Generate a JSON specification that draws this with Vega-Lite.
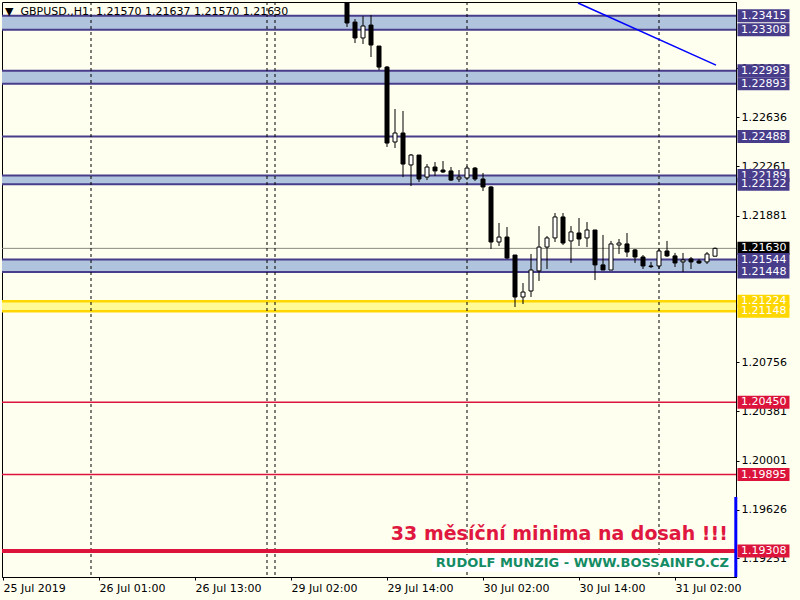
{
  "$schema": "https://vega.github.io/schema/vega-lite/v6.json",
  "width": 734,
  "height": 575,
  "autosize": {"type": "none"},
  "padding": {"left": 2, "top": 2, "right": 64, "bottom": 23},
  "background": "#fffff0",
  "config": {
    "view": {"stroke": "#000000", "strokeWidth": 1},
    "font": "DejaVu Sans",
    "axis": {"labelFont": "DejaVu Sans", "labelFontSize": 11, "labelColor": "#000000", "domainColor": "#000000", "tickColor": "#000000", "grid": false, "titleFontSize": 0}
  },
  "datasets": {
    "candles": [
      {"t": 43, "open": 1.2366, "high": 1.2370, "low": 1.23328, "close": 1.23359},
      {"t": 44, "open": 1.23366, "high": 1.23389, "low": 1.23205, "close": 1.23244},
      {"t": 45, "open": 1.23244, "high": 1.23412, "low": 1.23198, "close": 1.23336},
      {"t": 46, "open": 1.23343, "high": 1.23420, "low": 1.23098, "close": 1.23190},
      {"t": 47, "open": 1.23182, "high": 1.23182, "low": 1.22998, "close": 1.23021},
      {"t": 48, "open": 1.23021, "high": 1.23029, "low": 1.22408, "close": 1.22438},
      {"t": 49, "open": 1.22446, "high": 1.22699, "low": 1.22400, "close": 1.22515},
      {"t": 50, "open": 1.22515, "high": 1.22684, "low": 1.22177, "close": 1.22277},
      {"t": 51, "open": 1.22270, "high": 1.22354, "low": 1.22108, "close": 1.22346},
      {"t": 52, "open": 1.22346, "high": 1.22346, "low": 1.22139, "close": 1.22162},
      {"t": 53, "open": 1.22177, "high": 1.22277, "low": 1.22154, "close": 1.22254},
      {"t": 54, "open": 1.22254, "high": 1.22292, "low": 1.22185, "close": 1.22224},
      {"t": 55, "open": 1.22231, "high": 1.22300, "low": 1.22208, "close": 1.22216},
      {"t": 56, "open": 1.22224, "high": 1.22254, "low": 1.22147, "close": 1.22154},
      {"t": 57, "open": 1.22162, "high": 1.22231, "low": 1.22139, "close": 1.22177},
      {"t": 58, "open": 1.22170, "high": 1.22262, "low": 1.22154, "close": 1.22246},
      {"t": 59, "open": 1.22246, "high": 1.22254, "low": 1.22147, "close": 1.22162},
      {"t": 60, "open": 1.22162, "high": 1.22208, "low": 1.22070, "close": 1.22101},
      {"t": 61, "open": 1.22101, "high": 1.22108, "low": 1.21625, "close": 1.21679},
      {"t": 62, "open": 1.21679, "high": 1.21825, "low": 1.21648, "close": 1.21717},
      {"t": 63, "open": 1.21717, "high": 1.21794, "low": 1.21549, "close": 1.21556},
      {"t": 64, "open": 1.21579, "high": 1.21579, "low": 1.21180, "close": 1.21257},
      {"t": 65, "open": 1.21257, "high": 1.21364, "low": 1.21203, "close": 1.21295},
      {"t": 66, "open": 1.21303, "high": 1.21587, "low": 1.21257, "close": 1.21464},
      {"t": 67, "open": 1.21457, "high": 1.21801, "low": 1.21380, "close": 1.21640},
      {"t": 68, "open": 1.21640, "high": 1.21725, "low": 1.21472, "close": 1.21710},
      {"t": 69, "open": 1.21710, "high": 1.21901, "low": 1.21679, "close": 1.21871},
      {"t": 70, "open": 1.21871, "high": 1.21901, "low": 1.21656, "close": 1.21671},
      {"t": 71, "open": 1.21687, "high": 1.21801, "low": 1.21518, "close": 1.21756},
      {"t": 72, "open": 1.21748, "high": 1.21863, "low": 1.21648, "close": 1.21702},
      {"t": 73, "open": 1.21710, "high": 1.21832, "low": 1.21640, "close": 1.21771},
      {"t": 74, "open": 1.21771, "high": 1.21771, "low": 1.21387, "close": 1.21503},
      {"t": 75, "open": 1.21503, "high": 1.21733, "low": 1.21464, "close": 1.21464},
      {"t": 76, "open": 1.21464, "high": 1.21687, "low": 1.21464, "close": 1.21664},
      {"t": 77, "open": 1.21656, "high": 1.21702, "low": 1.21587, "close": 1.21671},
      {"t": 78, "open": 1.21664, "high": 1.21748, "low": 1.21564, "close": 1.21602},
      {"t": 79, "open": 1.21618, "high": 1.21625, "low": 1.21518, "close": 1.21564},
      {"t": 80, "open": 1.21564, "high": 1.21579, "low": 1.21472, "close": 1.21495},
      {"t": 81, "open": 1.21495, "high": 1.21526, "low": 1.21479, "close": 1.21490},
      {"t": 82, "open": 1.21495, "high": 1.21625, "low": 1.21472, "close": 1.21610},
      {"t": 83, "open": 1.21610, "high": 1.21687, "low": 1.21564, "close": 1.21572},
      {"t": 84, "open": 1.21572, "high": 1.21595, "low": 1.21487, "close": 1.21518},
      {"t": 85, "open": 1.21526, "high": 1.21595, "low": 1.21449, "close": 1.21541},
      {"t": 86, "open": 1.21549, "high": 1.21564, "low": 1.21472, "close": 1.21526},
      {"t": 87, "open": 1.21533, "high": 1.21549, "low": 1.21510, "close": 1.21518},
      {"t": 88, "open": 1.21526, "high": 1.21602, "low": 1.21510, "close": 1.21587},
      {"t": 89, "open": 1.21570, "high": 1.21637, "low": 1.21570, "close": 1.21630}
    ],
    "bands": [
      {"lo": 1.23308, "hi": 1.23415},
      {"lo": 1.22893, "hi": 1.22993},
      {"lo": 1.22122, "hi": 1.22189},
      {"lo": 1.21448, "hi": 1.21544}
    ],
    "zone": [{"lo": 1.21148, "hi": 1.21224}],
    "levels": [
      {"p": 1.23415}, {"p": 1.23308}, {"p": 1.22993}, {"p": 1.22893}, {"p": 1.22488},
      {"p": 1.22189}, {"p": 1.22122}, {"p": 1.21544}, {"p": 1.21448}
    ],
    "zoneLines": [{"p": 1.21224}, {"p": 1.21148}],
    "redLines": [{"p": 1.20450}, {"p": 1.19895}],
    "redThick": [{"p": 1.19308}],
    "bid": [{"p": 1.21630}],
    "separators": [{"t": 11}, {"t": 33}, {"t": 34}, {"t": 58}, {"t": 82}],
    "trend": [{"t": 71.875, "p": 1.23512}, {"t": 89.125, "p": 1.23036}],
    "blueBar": [{"t": 91.6, "lo": 1.19109, "hi": 1.19723}],
    "one": [{}],
    "labels": [
      {"p": 1.23415, "kind": "level"},
      {"p": 1.23308, "kind": "level"},
      {"p": 1.22993, "kind": "level"},
      {"p": 1.22893, "kind": "level"},
      {"p": 1.22488, "kind": "level"},
      {"p": 1.22189, "kind": "level"},
      {"p": 1.21630, "kind": "bid"},
      {"p": 1.21544, "kind": "level"},
      {"p": 1.21448, "kind": "level"},
      {"p": 1.21224, "kind": "zone"},
      {"p": 1.20450, "kind": "red"},
      {"p": 1.19895, "kind": "red"},
      {"p": 1.19308, "kind": "red"},
      {"p": 1.22122, "kind": "level"},
      {"p": 1.21148, "kind": "zone"}
    ]
  },
  "layer": [
    {
      "data": {"name": "bands"},
      "mark": {"type": "rect", "color": "#b0c4de"},
      "encoding": {
        "y": {"field": "lo", "type": "quantitative", "title": null,
              "scale": {"domain": [1.19109, 1.23520], "nice": false, "zero": false, "padding": 0},
              "axis": {"orient": "right", "title": null, "values": [1.23011, 1.22636, 1.22261, 1.21881, 1.20756, 1.20381, 1.20001, 1.19626, 1.19251], "format": ".5f", "tickSize": 3, "labelPadding": 2, "labelBaseline": "middle", "domainColor": "#000000"}},
        "y2": {"field": "hi"}
      }
    },
    {
      "data": {"name": "zone"},
      "mark": {"type": "rect", "color": "#fffa96"},
      "encoding": {
        "y": {"field": "lo", "type": "quantitative", "title": null},
        "y2": {"field": "hi"}
      }
    },
    {
      "data": {"name": "levels"},
      "mark": {"type": "rule", "color": "#483d8b", "strokeWidth": 2},
      "encoding": {"y": {"field": "p", "type": "quantitative", "title": null}}
    },
    {
      "data": {"name": "zoneLines"},
      "mark": {"type": "rule", "color": "#ffd700", "strokeWidth": 2.5},
      "encoding": {"y": {"field": "p", "type": "quantitative", "title": null}}
    },
    {
      "data": {"name": "redLines"},
      "mark": {"type": "rule", "color": "#dc143c", "strokeWidth": 1.5},
      "encoding": {"y": {"field": "p", "type": "quantitative", "title": null}}
    },
    {
      "data": {"name": "bid"},
      "mark": {"type": "rule", "color": "#8a8a80", "strokeWidth": 1},
      "encoding": {"y": {"field": "p", "type": "quantitative", "title": null}}
    },
    {
      "data": {"name": "separators"},
      "mark": {"type": "rule", "color": "#000000", "strokeWidth": 1, "strokeDash": [3, 3]},
      "encoding": {
        "x": {"field": "t", "type": "quantitative", "title": null,
              "scale": {"domain": [-0.125, 91.625], "nice": false, "zero": false, "padding": 0},
              "axis": {"title": null, "values": [0, 12, 24, 36, 48, 60, 72, 84],
                       "labelExpr": "['25 Jul 2019','26 Jul 01:00','26 Jul 13:00','29 Jul 02:00','29 Jul 14:00','30 Jul 02:00','30 Jul 14:00','31 Jul 02:00'][round(datum.value/12)]",
                       "labelAlign": "left", "labelBaseline": "top", "labelPadding": 2, "tickSize": 3, "labelOverlap": false, "labelFlush": false}}
      }
    },
    {
      "data": {"name": "trend"},
      "mark": {"type": "line", "color": "#0000ff", "strokeWidth": 1.5, "clip": true},
      "encoding": {
        "x": {"field": "t", "type": "quantitative", "title": null},
        "y": {"field": "p", "type": "quantitative", "title": null}
      }
    },
    {
      "data": {"name": "candles"},
      "mark": {"type": "rule", "color": "#000000", "strokeWidth": 1, "clip": true},
      "encoding": {
        "x": {"field": "t", "type": "quantitative", "title": null},
        "y": {"field": "low", "type": "quantitative", "title": null},
        "y2": {"field": "high"}
      }
    },
    {
      "data": {"name": "candles"},
      "mark": {"type": "bar", "size": 4, "stroke": "#000000", "strokeWidth": 1, "clip": true},
      "encoding": {
        "x": {"field": "t", "type": "quantitative", "title": null},
        "y": {"field": "open", "type": "quantitative", "title": null},
        "y2": {"field": "close"},
        "fill": {"condition": {"test": "datum.close < datum.open", "value": "#000000"}, "value": "#ffffff"}
      }
    },
    {
      "data": {"name": "one"},
      "mark": {"type": "tick", "orient": "horizontal", "size": 302, "thickness": 17, "color": "#ffffff", "opacity": 1},
      "encoding": {
        "x": {"datum": 72.5, "type": "quantitative"},
        "y": {"datum": 1.19214, "type": "quantitative"}
      }
    },
    {
      "data": {"name": "redThick"},
      "mark": {"type": "rule", "color": "#dc143c", "strokeWidth": 4},
      "encoding": {"y": {"field": "p", "type": "quantitative", "title": null}}
    },
    {
      "data": {"name": "one"},
      "mark": {"type": "text", "text": "33 měsíční minima na dosah !!!", "font": "DejaVu Sans", "fontWeight": "bold", "fontSize": 19, "color": "#e0173f", "align": "right", "baseline": "alphabetic"},
      "encoding": {
        "x": {"datum": 90.6, "type": "quantitative"},
        "y": {"datum": 1.19393, "type": "quantitative"}
      }
    },
    {
      "data": {"name": "one"},
      "mark": {"type": "text", "text": "RUDOLF MUNZIG - WWW.BOSSAINFO.CZ", "font": "DejaVu Sans", "fontWeight": "bold", "fontSize": 13, "color": "#148c64", "align": "right", "baseline": "middle"},
      "encoding": {
        "x": {"datum": 90.75, "type": "quantitative"},
        "y": {"datum": 1.19214, "type": "quantitative"}
      }
    },
    {
      "data": {"name": "one"},
      "mark": {"type": "text", "text": "▼\u00a0\u00a0GBPUSD.,H1\u00a0\u00a01.21570 1.21637 1.21570 1.21630", "font": "DejaVu Sans", "fontSize": 11, "color": "#000000", "align": "left", "baseline": "middle"},
      "encoding": {
        "x": {"datum": 0.25, "type": "quantitative"},
        "y": {"datum": 1.23443, "type": "quantitative"}
      }
    },
    {
      "data": {"name": "blueBar"},
      "mark": {"type": "rule", "color": "#0000ff", "strokeWidth": 3},
      "encoding": {
        "x": {"field": "t", "type": "quantitative", "title": null},
        "y": {"field": "lo", "type": "quantitative", "title": null},
        "y2": {"field": "hi"}
      }
    },
    {
      "data": {"name": "labels"},
      "transform": [{"filter": "!(datum.p == 1.22122 || datum.p == 1.21148)"}],
      "layer": [
        {
          "mark": {"type": "tick", "orient": "horizontal", "size": 52, "thickness": 13, "opacity": 1},
          "encoding": {
            "x": {"datum": 95.06, "type": "quantitative"},
            "y": {"field": "p", "type": "quantitative", "title": null},
            "color": {"field": "kind", "type": "nominal", "legend": null,
                      "scale": {"domain": ["level", "bid", "zone", "red"], "range": ["#483d8b", "#000000", "#ffd700", "#dc143c"]}}
          }
        },
        {
          "mark": {"type": "text", "font": "DejaVu Sans", "fontSize": 11, "color": "#ffffff", "align": "left", "baseline": "middle"},
          "encoding": {
            "x": {"datum": 92.25, "type": "quantitative"},
            "y": {"field": "p", "type": "quantitative", "title": null},
            "text": {"field": "p", "type": "quantitative", "format": ".5f"}
          }
        }
      ]
    },
    {
      "data": {"name": "labels"},
      "transform": [{"filter": "datum.p == 1.22122 || datum.p == 1.21148"}],
      "layer": [
        {
          "mark": {"type": "tick", "orient": "horizontal", "size": 52, "thickness": 13, "opacity": 1},
          "encoding": {
            "x": {"datum": 95.06, "type": "quantitative"},
            "y": {"field": "p", "type": "quantitative", "title": null},
            "color": {"field": "kind", "type": "nominal", "legend": null}
          }
        },
        {
          "mark": {"type": "text", "font": "DejaVu Sans", "fontSize": 11, "color": "#ffffff", "align": "left", "baseline": "middle"},
          "encoding": {
            "x": {"datum": 92.25, "type": "quantitative"},
            "y": {"field": "p", "type": "quantitative", "title": null},
            "text": {"field": "p", "type": "quantitative", "format": ".5f"}
          }
        }
      ]
    }
  ]
}
